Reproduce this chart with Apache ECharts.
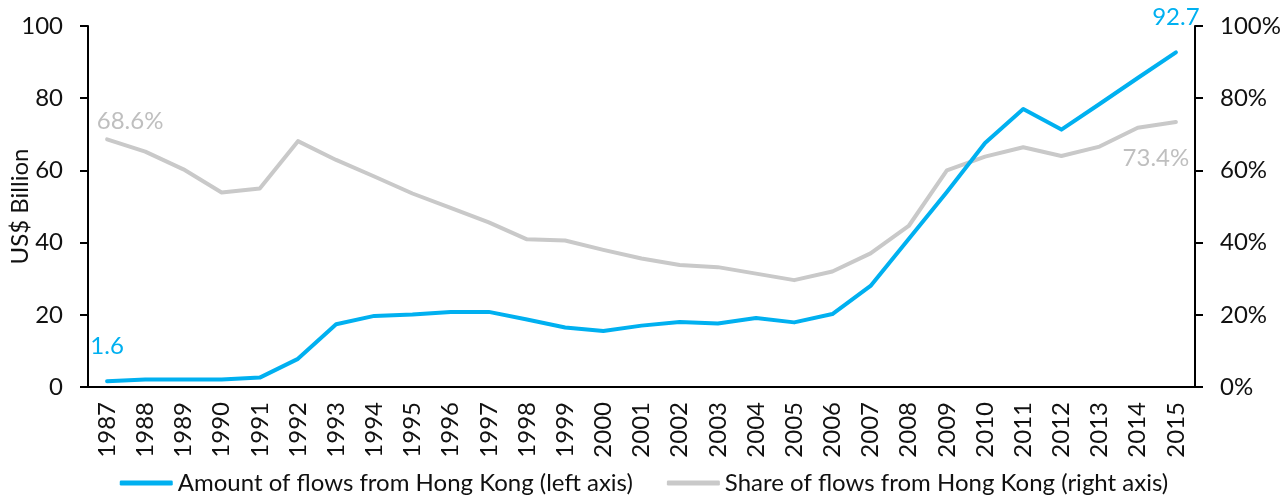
<!DOCTYPE html>
<html>
<head>
<meta charset="utf-8">
<script src="https://cdn.jsdelivr.net/npm/echarts@6/dist/echarts.min.js"></script>
<style>
html,body{margin:0;padding:0;background:#fff;}
#chart{width:1288px;height:500px;}
</style>
</head>
<body>
<div id="chart"></div>
<script>
var years = ['1987','1988','1989','1990','1991','1992','1993','1994','1995','1996','1997','1998','1999','2000','2001','2002','2003','2004','2005','2006','2007','2008','2009','2010','2011','2012','2013','2014','2015'];
var amountHK = [1.6,2.1,2.1,2.1,2.6,7.8,17.4,19.7,20.1,20.8,20.8,18.7,16.5,15.5,17.0,18.0,17.6,19.1,17.9,20.2,28.0,41.0,54.0,67.6,77.0,71.3,78.4,85.6,92.7];
var shareHK = [68.6,65.2,60.3,53.9,55.0,68.1,62.9,58.3,53.6,49.6,45.6,40.9,40.6,38.0,35.6,33.8,33.2,31.4,29.6,32.0,37.0,44.6,60.0,63.8,66.4,64.0,66.6,71.8,73.4];
var leftTicks = [0,20,40,60,80,100];
var rightTicks = ['0%','20%','40%','60%','80%','100%'];
var seriesNames = ['Amount of flows from Hong Kong (left axis)','Share of flows from Hong Kong (right axis)'];
var leftAxisName = 'US$ Billion';

var FONT = 'Lato';
var FS = 24;
var BLUE = '#00B0F0';
var GREY = '#C9C9C9';
var GREYTXT = '#BFBFBF';
var TXT = '#111111';

function amountData(){
  return amountHK.map(function(v,i){
    var d = {value:v};
    if(i===0 || i===amountHK.length-1){
      d.label = {show:true, position:'top', distance:22, color:BLUE, fontSize:FS, fontFamily:FONT, formatter: function(p){return p.value.toFixed(1);}};
    }
    return d;
  });
}
function shareData(){
  return shareHK.map(function(v,i){
    var d = {value:v};
    if(i===0){
      d.label = {show:true, position:'top', distance:5, offset:[23,0], color:GREYTXT, fontSize:FS, fontFamily:FONT, formatter: function(p){return p.value.toFixed(1)+'%';}};
    } else if(i===shareHK.length-1){
      d.label = {show:true, position:'bottom', distance:23, offset:[-20,0], color:GREYTXT, fontSize:FS, fontFamily:FONT, formatter: function(p){return p.value.toFixed(1)+'%';}};
    }
    return d;
  });
}

var chart = echarts.init(document.getElementById('chart'), null, {renderer:'canvas'});
chart.setOption({
  animation:false,
  backgroundColor:'#fff',
  textStyle:{fontFamily:FONT},
  grid:{left:88, right:93, top:26, bottom:113, containLabel:false, outerBoundsMode:'none'},
  legend:{
    show:true, left:'center', top:466, itemWidth:53, itemHeight:5, itemGap:34,
    icon:'roundRect',
    textStyle:{fontFamily:FONT, fontSize:FS, color:TXT},
    data:[{name:seriesNames[0], itemStyle:{color:BLUE}},{name:seriesNames[1], itemStyle:{color:GREY}}]
  },
  xAxis:{
    type:'category', data:years, boundaryGap:true,
    axisLine:{lineStyle:{color:'#000', width:2}},
    axisTick:{show:false},
    axisLabel:{rotate:90, margin:15, fontSize:FS, fontFamily:FONT, color:TXT, interval:0},
    splitLine:{show:false}
  },
  yAxis:[{
    type:'value', min:0, max:100, interval:20, position:'left',
    name:leftAxisName, nameLocation:'middle', nameGap:56, nameRotate:90, nameMoveOverlap:false,
    nameTextStyle:{fontSize:FS, fontFamily:FONT, color:TXT},
    axisLine:{show:true, lineStyle:{color:'#000', width:2}},
    axisTick:{show:true, length:8, inside:false, lineStyle:{color:'#000', width:2}},
    axisLabel:{margin:25, fontSize:FS, fontFamily:FONT, color:TXT, formatter:function(v){return String(leftTicks[leftTicks.indexOf(v)]);}},
    splitLine:{show:false}
  },{
    type:'value', min:0, max:100, interval:20, position:'right',
    axisLine:{show:true, lineStyle:{color:'#000', width:2}},
    axisTick:{show:true, length:8, inside:false, lineStyle:{color:'#000', width:2}},
    axisLabel:{margin:25, fontSize:FS, fontFamily:FONT, color:TXT, formatter:function(v){return rightTicks[leftTicks.indexOf(v)];}},
    splitLine:{show:false}
  }],
  series:[{
    name:seriesNames[0], type:'line', yAxisIndex:0, data:amountData(),
    symbol:'circle', symbolSize:2, showSymbol:true, showAllSymbol:true,
    lineStyle:{color:BLUE, width:4, cap:'round', join:'round'}, itemStyle:{color:BLUE}, z:3
  },{
    name:seriesNames[1], type:'line', yAxisIndex:1, data:shareData(),
    symbol:'circle', symbolSize:2, showSymbol:true, showAllSymbol:true,
    lineStyle:{color:GREY, width:4, cap:'round', join:'round'}, itemStyle:{color:GREY}, z:2
  }]
});
</script>
</body>
</html>
